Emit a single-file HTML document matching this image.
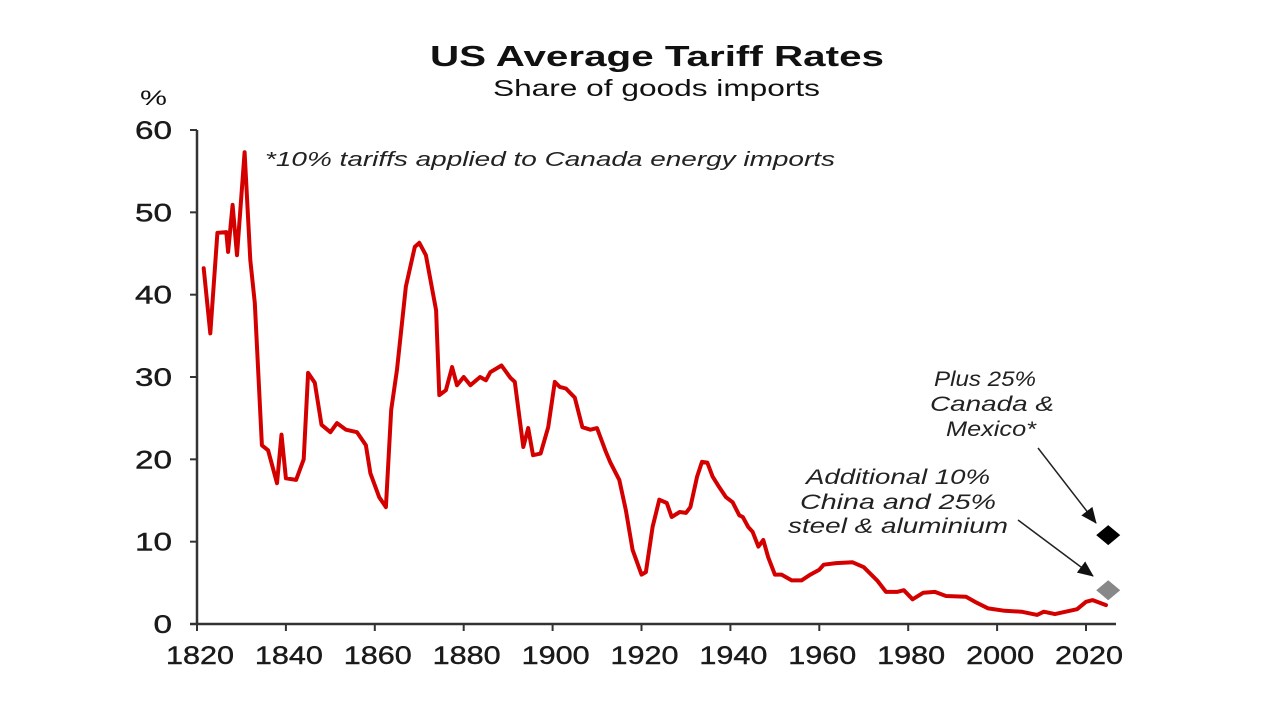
<!DOCTYPE html>
<html><head><meta charset="utf-8"><style>
html,body{margin:0;padding:0;background:#fff;}
svg{display:block;font-family:"Liberation Sans",Arial,sans-serif;}
</style></head><body>
<svg id="chart" width="1280" height="720" viewBox="0 0 1280 720">
<text x="430" y="66" textLength="454" lengthAdjust="spacingAndGlyphs" font-size="29" font-weight="bold" fill="#111">US Average Tariff Rates</text>
<text x="493" y="96" textLength="327" lengthAdjust="spacingAndGlyphs" font-size="23" fill="#111">Share of goods imports</text>
<text x="140" y="105" textLength="27" lengthAdjust="spacingAndGlyphs" font-size="21" fill="#111">%</text>
<g id="axes"></g>
<g id="series"></g>
<text x="265" y="166" textLength="570" lengthAdjust="spacingAndGlyphs" font-size="20" font-style="italic" fill="#222">*10% tariffs applied to Canada energy imports</text>
<g font-size="21" font-style="italic" fill="#222">
<text x="934" y="386" textLength="102" lengthAdjust="spacingAndGlyphs">Plus 25%</text><text x="930" y="411" textLength="124" lengthAdjust="spacingAndGlyphs">Canada &amp;</text><text x="946" y="436" textLength="90" lengthAdjust="spacingAndGlyphs">Mexico*</text></g>
<g font-size="21" font-style="italic" fill="#222">
<text x="806" y="484" textLength="184" lengthAdjust="spacingAndGlyphs">Additional 10%</text><text x="800" y="509" textLength="196" lengthAdjust="spacingAndGlyphs">China and 25%</text><text x="788" y="533" textLength="220" lengthAdjust="spacingAndGlyphs">steel &amp; aluminium</text></g>
<defs><marker id="ah" markerWidth="16" markerHeight="14" refX="15" refY="7" orient="auto" markerUnits="userSpaceOnUse" viewBox="0 0 16 14"><path d="M0,0 L16,7 L0,14 z" fill="#111"/></marker></defs>
<line x1="1038" y1="448" x2="1096" y2="523" stroke="#222" stroke-width="1.5" marker-end="url(#ah)"/>
<line x1="1018" y1="520" x2="1093" y2="576" stroke="#222" stroke-width="1.5" marker-end="url(#ah)"/>
</svg>
<script>
const years=[1821.5,1823,1824.6,1826.6,1827,1828,1829,1830.7,1832,1833,1834.6,1836,1838,1839,1840,1842.3,1844,1845,1846.5,1848,1850,1851.5,1853.5,1856,1858,1859,1861,1862.5,1863.7,1865,1867,1869,1870,1871.5,1873.8,1874.5,1876,1877.4,1878.5,1880,1881.5,1883.7,1885,1886,1888.5,1890.5,1891.5,1893.4,1894.5,1895.6,1897.3,1899,1900.5,1901.6,1903,1905,1906.7,1908.5,1910,1912,1913,1915,1916.5,1918,1920,1921,1922.5,1924,1925.7,1926.8,1928.6,1930,1931,1932.5,1933.6,1934.8,1936,1937.5,1939,1940.5,1942,1942.8,1944,1945,1946.3,1947.4,1948.5,1950,1951.5,1953.8,1956,1958,1960,1961,1963.8,1967.5,1970,1973,1975,1977.5,1979,1981,1983.4,1986,1988.5,1993,1995,1998,2001.7,2005.5,2009,2010.5,2013,2018,2020,2021.5,2024.5];
const rates=[43.2,35.3,47.5,47.6,45.2,50.9,44.8,57.3,44.2,39,21.7,21.1,17.1,23,17.7,17.5,20,30.5,29.3,24.2,23.3,24.4,23.6,23.3,21.7,18.3,15.4,14.2,26,30.9,41,45.8,46.3,44.8,38.1,27.8,28.4,31.2,29,30,29,30,29.6,30.6,31.4,29.9,29.4,21.5,23.8,20.5,20.7,23.9,29.4,28.8,28.6,27.5,23.9,23.6,23.8,20.9,19.6,17.5,13.8,9,6,6.3,11.8,15.1,14.7,13,13.6,13.5,14.2,17.9,19.7,19.6,17.9,16.6,15.4,14.8,13.2,13,11.8,11.2,9.4,10.2,8.1,6,6,5.3,5.3,6,6.6,7.2,7.4,7.5,6.9,5.3,3.9,3.9,4.1,3,3.8,3.9,3.4,3.3,2.7,1.9,1.6,1.5,1.1,1.5,1.2,1.8,2.7,2.9,2.3];
const yTicks=[0,10,20,30,40,50,60];
const xTicks=[1820,1840,1860,1880,1900,1920,1940,1960,1980,2000,2020];
const proposalYears=[2025,2025];
const proposalValues=[10.8,4.1];
const proposalNames=['canada-mexico-marker','china-steel-marker'];
const proposalColors=['#000','#888'];
const X=y=>197+(y-1820)*4.445;
const Y=v=>624-v*8.233;
const NS='http://www.w3.org/2000/svg';
const ax=document.getElementById('axes'),se=document.getElementById('series');
function mk(tag,attrs,parent){const e=document.createElementNS(NS,tag);for(const k in attrs)e.setAttribute(k,attrs[k]);parent.appendChild(e);return e;}
const ya=mk('line',{x1:197,y1:Y(60),x2:197,y2:Y(0),stroke:'#333','stroke-width':2.5},ax);


const xa=mk('line',{x1:190,y1:Y(0),x2:1116,y2:Y(0),stroke:'#333','stroke-width':2.5},ax);


yTicks.forEach(t=>{
 mk('line',{x1:190,y1:Y(t),x2:197,y2:Y(t),stroke:'#333','stroke-width':2},ax);
 const s=String(t);
 const tx=mk('text',{x:172,y:Y(t)+9,'text-anchor':'end','font-size':25,fill:'#1a1a1a',stroke:'#1a1a1a','stroke-width':0.4,textLength:s.length*18.5,lengthAdjust:'spacingAndGlyphs'},ax);
 tx.textContent=s;
 
 
});
xTicks.forEach(t=>{
 mk('line',{x1:X(t),y1:Y(0),x2:X(t),y2:Y(0)+7,stroke:'#333','stroke-width':2},ax);
 const tx=mk('text',{x:X(t)-31,y:664,'font-size':25,fill:'#1a1a1a',stroke:'#1a1a1a','stroke-width':0.4,textLength:68,lengthAdjust:'spacingAndGlyphs'},ax);
 tx.textContent=t;
 
 
});
const pts=years.map((y,i)=>X(y).toFixed(1)+','+Y(rates[i]).toFixed(1)).join(' ');
const pl=mk('polyline',{points:pts,fill:'none',stroke:'#d40000','stroke-width':4,'stroke-linejoin':'round','stroke-linecap':'round'},se);


proposalYears.forEach((y,i)=>{
 const cx=X(y),cy=Y(proposalValues[i]),r=10;
 const d=mk('polygon',{points:`${cx},${cy-r} ${cx+r+2},${cy} ${cx},${cy+r} ${cx-r-2},${cy}`,fill:proposalColors[i]},se);
 
 
});
</script>
</body></html>
